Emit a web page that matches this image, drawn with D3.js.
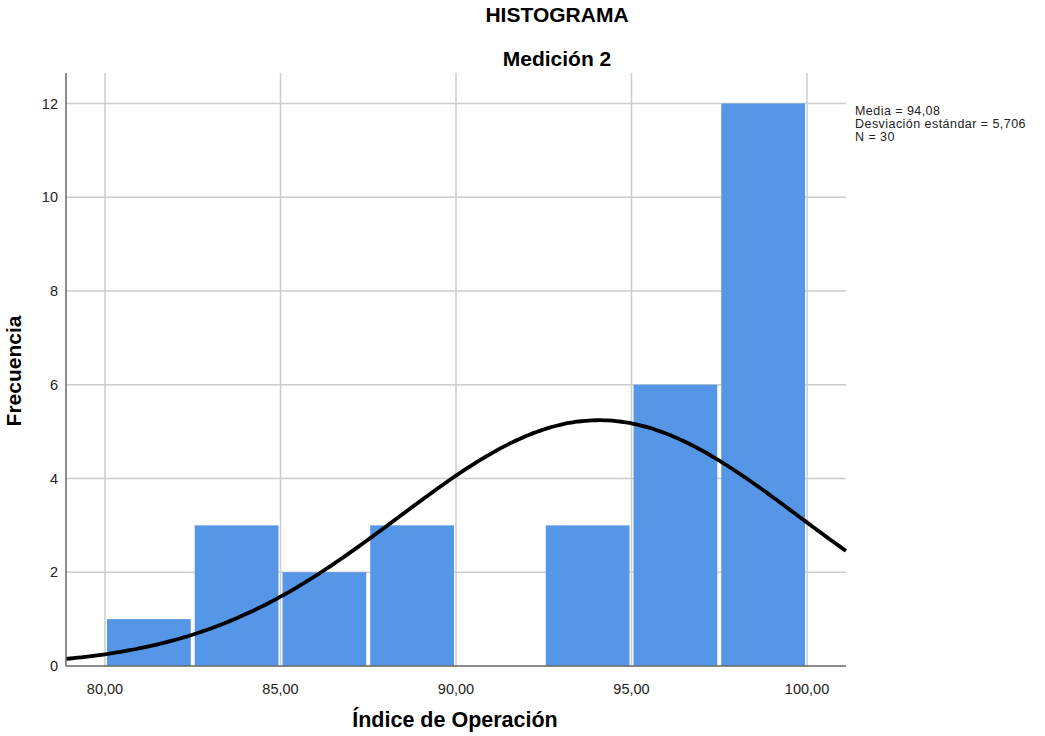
<!DOCTYPE html>
<html>
<head>
<meta charset="utf-8">
<script src="https://cdn.jsdelivr.net/npm/d3@7"></script>
<style>
  body { margin: 0; background: #fff; }
  text { font-family: Arial, "Liberation Sans", sans-serif; }
</style>
</head>
<body>
<script>
// histogram bins (lower edge) and counts
const binStarts = [80, 82.5, 85, 87.5, 90, 92.5, 95, 97.5]
const counts = [1, 3, 2, 3, 0, 3, 6, 12]
const binWidth = 2.5
const xTicks = [80, 85, 90, 95, 100]
const yTicks = [0, 2, 4, 6, 8, 10, 12]
const stats = { mean: 94.08, sd: 5.706, n: 30 }
const statLabels = ['Media = 94,08', 'Desviación estándar = 5,706', 'N = 30']

const width = 1045, height = 736
const margin = { top: 73, right: 199, bottom: 70, left: 66 }
const innerW = width - margin.left - margin.right
const innerH = height - margin.top - margin.bottom

const svg = d3.select('body').append('svg')
    .attr('width', width)
    .attr('height', height)

const g = svg.append('g')
    .attr('transform', `translate(${margin.left}, ${margin.top})`)

const x = d3.scaleLinear()
    .domain([78.89, 101.11])
    .range([0, innerW])

const y = d3.scaleLinear()
    .domain([0, 12.65])
    .range([innerH, 0])

const fmt = d => d.toFixed(2).replace('.', ',')

// grid
g.selectAll('.hgrid')
    .data(yTicks.filter(d => d > 0))
    .enter().append('line')
    .attr('x1', 0).attr('x2', innerW)
    .attr('y1', d => y(d)).attr('y2', d => y(d))
    .style('stroke', '#cccccc')
    .style('stroke-width', 1.5)

g.selectAll('.vgrid')
    .data(xTicks)
    .enter().append('line')
    .attr('x1', d => x(d)).attr('x2', d => x(d))
    .attr('y1', 0).attr('y2', innerH)
    .style('stroke', '#cccccc')
    .style('stroke-width', 1.5)

// bars
g.selectAll('.bar')
    .data(binStarts.map((b, i) => ({ b, c: counts[i] })).filter(d => d.c > 0))
    .enter().append('rect')
    .attr('x', d => x(d.b) + 2)
    .attr('width', d => x(d.b + binWidth) - x(d.b) - 4)
    .attr('y', d => y(d.c))
    .attr('height', d => innerH - y(d.c))
    .style('fill', '#5596e6')

// normal curve from the stated mean, sd and N
const pdf = v => stats.n * binWidth / (stats.sd * Math.sqrt(2 * Math.PI)) *
    Math.exp(-0.5 * Math.pow((v - stats.mean) / stats.sd, 2))
const curveX = d3.range(0, 201).map(i => x.invert(innerW * i / 200))
g.append('path')
    .datum(curveX)
    .attr('d', d3.line().x(d => x(d)).y(d => y(pdf(d))).curve(d3.curveBasis))
    .style('fill', 'none')
    .style('stroke', '#000')
    .style('stroke-width', 3.8)

// axes
g.append('line')
    .attr('x1', 0).attr('x2', 0).attr('y1', 0).attr('y2', innerH)
    .style('stroke', '#666').style('stroke-width', 1.5)
g.append('line')
    .attr('x1', 0).attr('x2', innerW).attr('y1', innerH).attr('y2', innerH)
    .style('stroke', '#666').style('stroke-width', 1.5)

g.selectAll('.ylab')
    .data(yTicks)
    .enter().append('text')
    .attr('x', -8)
    .attr('y', d => y(d))
    .attr('dy', '0.35em')
    .style('text-anchor', 'end')
    .style('font-size', '14.5px')
    .style('fill', '#222')
    .text(d => d)

g.selectAll('.xlab')
    .data(xTicks)
    .enter().append('text')
    .attr('x', d => x(d))
    .attr('y', innerH + 28)
    .style('text-anchor', 'middle')
    .style('font-size', '14.5px')
    .style('fill', '#222')
    .text(fmt)

// titles
svg.append('text')
    .attr('x', 557).attr('y', 22)
    .style('text-anchor', 'middle')
    .style('font-size', '21px').style('font-weight', 'bold')
    .text('HISTOGRAMA')

svg.append('text')
    .attr('x', 557).attr('y', 66)
    .style('text-anchor', 'middle')
    .style('font-size', '21px').style('font-weight', 'bold')
    .text('Medición 2')

svg.append('text')
    .attr('x', 455).attr('y', 727)
    .style('text-anchor', 'middle')
    .style('font-size', '21.5px').style('font-weight', 'bold')
    .text('Índice de Operación')

svg.append('text')
    .attr('transform', 'translate(21, 371) rotate(-90)')
    .style('text-anchor', 'middle')
    .style('font-size', '21px').style('font-weight', 'bold')
    .text('Frecuencia')

// stats box
svg.selectAll('.stat')
    .data(statLabels)
    .enter().append('text')
    .attr('x', 855)
    .attr('y', (d, i) => 115 + i * 13)
    .style('font-size', '12.5px')
    .style('letter-spacing', '0.45px')
    .style('fill', '#222')
    .text(d => d)
</script>
</body>
</html>
